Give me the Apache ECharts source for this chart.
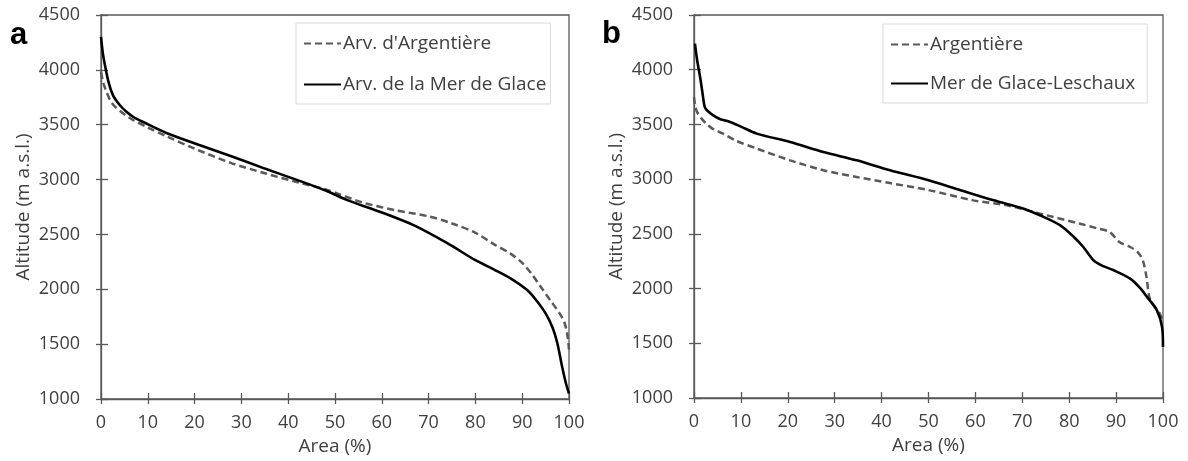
<!DOCTYPE html>
<html><head><meta charset="utf-8">
<script src="https://cdn.jsdelivr.net/npm/echarts@6/dist/echarts.min.js"></script>
<style>html,body{margin:0;padding:0;background:#fff}#c{width:1188px;height:461px}</style>
</head><body><div id="c"></div>
<script>
// Panel a
const aArgX = [0, 0.5, 1, 2, 3, 5, 7, 10, 14, 20, 28, 35, 42, 48, 56, 63, 70, 75, 80, 84, 87.5, 90, 92, 94, 96, 98, 99, 99.6, 100];
const aArgY = [3980, 3880, 3820, 3720, 3665, 3595, 3540, 3475, 3395, 3282, 3148, 3058, 2975, 2910, 2790, 2720, 2665, 2600, 2515, 2410, 2325, 2240, 2140, 2020, 1900, 1780, 1700, 1600, 1450];
const aMerX = [0, 0.4, 0.9, 1.6, 2.6, 4, 5.5, 7, 9, 14, 21, 28, 35, 42, 48, 52.5, 60, 67, 74, 80, 84, 87.5, 91, 93, 95, 96.5, 97.5, 98.5, 99.3, 100];
const aMerY = [4300, 4150, 4030, 3890, 3765, 3680, 3615, 3568, 3525, 3425, 3315, 3210, 3100, 2995, 2900, 2815, 2700, 2580, 2420, 2265, 2180, 2100, 1995, 1900, 1780, 1650, 1510, 1300, 1150, 1050];
// Panel b
const bArgX = [0, 0.3, 0.7, 1.5, 2.6, 4, 6.2, 9, 13.4, 20.5, 27.6, 34.7, 41.8, 50, 59.6, 66.7, 75.2, 82.3, 86, 88.6, 90.7, 93, 94.6, 95.7, 96.5, 97.1, 98.3, 99.3, 100];
const bArgY = [3750, 3660, 3610, 3560, 3507, 3460, 3416, 3350, 3279, 3172, 3081, 3019, 2964, 2900, 2806, 2761, 2669, 2593, 2550, 2517, 2425, 2380, 2334, 2258, 2100, 1923, 1830, 1771, 1700];
const bMerX = [0.2, 0.7, 1.3, 1.8, 2.3, 3, 4.1, 5.5, 7.7, 10, 13.4, 20.5, 27.6, 34.7, 41.8, 50, 56, 63.9, 70.3, 74, 78.1, 81, 83, 85.2, 87, 89.5, 93, 95, 96.6, 98.7, 99.8, 100];
const bMerY = [4239, 4080, 3933, 3790, 3659, 3620, 3583, 3550, 3522, 3480, 3416, 3339, 3248, 3172, 3081, 2990, 2910, 2806, 2730, 2665, 2578, 2471, 2380, 2258, 2210, 2167, 2091, 2010, 1923, 1801, 1648, 1465];

const legendA = ["Arv. d'Argentière", "Arv. de la Mer de Glace"];
const legendB = ["Argentière", "Mer de Glace-Leschaux"];
const panelLabels = ["a", "b"];
const xName = "Area (%)";
const yName = "Altitude (m a.s.l.)";

const zip = (xs, ys) => xs.map((x, i) => [x, ys[i]]);
const AX = '#595959', TXT = '#404040', FONT = 'Open Sans';

function xAxes(gi) {
  return [
    { gridIndex: gi, type: 'value', min: 0, max: 100, interval: 10,
      name: xName, nameLocation: 'middle', nameGap: 32,
      nameTextStyle: { color: TXT, fontSize: 19, fontFamily: FONT },
      axisLine: { lineStyle: { color: AX, width: 1.3 } },
      axisTick: { show: true, inside: false, length: 5, lineStyle: { color: AX, width: 1.3 } },
      axisLabel: { color: TXT, fontSize: 18, fontFamily: FONT, margin: 15 },
      splitLine: { show: false } },
    { gridIndex: gi, type: 'value', min: 0, max: 100, interval: 10, position: 'bottom',
      axisLine: { show: false },
      axisTick: { show: true, inside: true, length: 6, lineStyle: { color: AX, width: 1.3 } },
      axisLabel: { show: false }, splitLine: { show: false } }
  ];
}
function yAxes(gi) {
  return [
    { gridIndex: gi, type: 'value', min: 1000, max: 4500, interval: 500,
      name: yName, nameLocation: 'middle', nameGap: 68,
      nameTextStyle: { color: TXT, fontSize: 19, fontFamily: FONT },
      axisLine: { show: true, lineStyle: { color: AX, width: 1.3 } },
      axisTick: { show: true, inside: false, length: 5, lineStyle: { color: AX, width: 1.3 } },
      axisLabel: { color: TXT, fontSize: 18, fontFamily: FONT, margin: 21, formatter: v => String(v) },
      splitLine: { show: false } },
    { gridIndex: gi, type: 'value', min: 1000, max: 4500, interval: 500, position: 'left',
      axisLine: { show: false },
      axisTick: { show: true, inside: true, length: 7, lineStyle: { color: AX, width: 1.3 } },
      axisLabel: { show: false }, splitLine: { show: false } }
  ];
}
const dashed = { color: '#595959', width: 2.5, type: [7, 4] };
const solid = { color: '#000000', width: 2.6, type: 'solid' };
function ser(name, data, xi, yi, ls) {
  return { name, type: 'line', data, xAxisIndex: xi, yAxisIndex: yi, symbol: 'none', showSymbol: false,
    smooth: 0.3, lineStyle: ls, itemStyle: { color: ls.color }, z: 3 };
}
function legend(names, left, top, gap, padRight) {
  return {
    data: names, orient: 'vertical', left, top,
    itemWidth: 37, itemHeight: 14, itemGap: gap,
    itemStyle: { color: 'rgba(0,0,0,0)', borderColor: 'rgba(0,0,0,0)', borderWidth: 0 },
    padding: [11, padRight, 10, 7], borderColor: '#d9d9d9', borderWidth: 1, selectedMode: false,
    textStyle: { color: TXT, fontSize: 19, fontFamily: FONT, padding: [0, 0, 0, -3] } };
}

const chart = echarts.init(document.getElementById('c'), null, { renderer: 'canvas' });
chart.setOption({
  animation: false,
  backgroundColor: '#fff',
  grid: [
    { left: 101, right: 619, top: 15, bottom: 62, show: true, borderColor: AX, borderWidth: 1.3, backgroundColor: 'transparent' },
    { left: 694, right: 25, top: 15, bottom: 63, show: true, borderColor: AX, borderWidth: 1.3, backgroundColor: 'transparent' }
  ],
  xAxis: [...xAxes(0), ...xAxes(1)],
  yAxis: [...yAxes(0), ...yAxes(1)],
  legend: [legend(legendA, 296, 23, 22, 4), legend(legendB, 883, 24, 20, 12)],
  series: [
    ser(legendA[0], zip(aArgX, aArgY), 0, 0, dashed),
    ser(legendA[1], zip(aMerX, aMerY), 0, 0, solid),
    ser(legendB[0], zip(bArgX, bArgY), 2, 2, dashed),
    ser(legendB[1], zip(bMerX, bMerY), 2, 2, solid)
  ],
  graphic: [
    { type: 'text', left: 10, top: 20, style: { text: panelLabels[0], font: 'bold 31px "Liberation Sans"', fill: '#000' } },
    { type: 'text', left: 602, top: 19, style: { text: panelLabels[1], font: 'bold 31px "Liberation Sans"', fill: '#000' } }
  ]
});
</script></body></html>
